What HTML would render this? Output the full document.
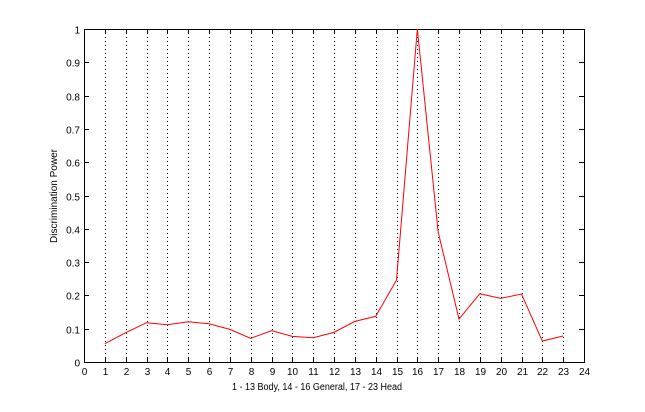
<!DOCTYPE html>
<html><head><meta charset="utf-8"><style>
body{margin:0;background:#fff;}
svg text{font-family:"Liberation Sans",sans-serif;font-size:10px;fill:#000;}
</style></head><body>
<svg id="chart" width="645" height="407" xmlns="http://www.w3.org/2000/svg">
<rect x="0" y="0" width="645" height="407" fill="#fff"/>
<g id="grid"></g>
<g id="axes"></g>
<polyline id="line" fill="none" stroke="#f00" stroke-width="1"/>
<text x="317" y="390" text-anchor="middle" textLength="170" lengthAdjust="spacingAndGlyphs">1 - 13 Body, 14 - 16 General, 17 - 23 Head</text>
<text transform="translate(57,196) rotate(-90)" text-anchor="middle">Discrimination Power</text>
</svg>
<script>
const xCats=[1,2,3,4,5,6,7,8,9,10,11,12,13,14,15,16,17,18,19,20,21,22,23];
const yVals=[0.055,0.088,0.118,0.112,0.121,0.115,0.098,0.071,0.094,0.077,0.073,0.089,0.122,0.137,0.246,1.0,0.39,0.129,0.205,0.191,0.204,0.063,0.078];
const xTicks=[0,1,2,3,4,5,6,7,8,9,10,11,12,13,14,15,16,17,18,19,20,21,22,23,24];
const yTicks=[0,0.1,0.2,0.3,0.4,0.5,0.6,0.7,0.8,0.9,1];
const L=84,R=584,T=29,B=362;
const sx=v=>L+(v-0)/24*(R-L);
const sy=v=>B-(v-0)/1*(B-T);
const NS="http://www.w3.org/2000/svg";
const grid=document.getElementById('grid'),axes=document.getElementById('axes');
function mk(tag,attrs,parent){const e=document.createElementNS(NS,tag);for(const k in attrs)e.setAttribute(k,attrs[k]);parent.appendChild(e);return e;}
const box=mk('rect',{x:L+0.5,y:T+0.5,width:R-L,height:B-T,fill:'none',stroke:'#000','stroke-width':1},axes);


xTicks.forEach(t=>{
  const x=Math.round(sx(t))+0.5;
  if(t>0&&t<24){const g=mk('line',{x1:x,x2:x,y1:T,y2:B,stroke:'#000','stroke-dasharray':'1,3'},grid);
  
  }
  const tk=mk('line',{x1:x,x2:x,y1:B,y2:B-5,stroke:'#000'},axes);
  
  
  const tk2=mk('line',{x1:x,x2:x,y1:T,y2:T+5,stroke:'#000'},axes);
  
  
  const lb=mk('text',{x:x,y:B+13,'text-anchor':'middle'},axes);lb.textContent=t;
  
  
});
yTicks.forEach(t=>{
  const y=Math.round(sy(t))+0.5;
  const tk=mk('line',{x1:L,x2:L+5,y1:y,y2:y,stroke:'#000'},axes);
  
  
  const tk2=mk('line',{x1:R-5,x2:R,y1:y,y2:y,stroke:'#000'},axes);
  
  
  const lb=mk('text',{x:L-4,y:y+4,'text-anchor':'end'},axes);lb.textContent=t;
  
  
});
document.getElementById('line').setAttribute('points',xCats.map((c,i)=>sx(c)+','+sy(yVals[i])).join(' '));
</script>
</body></html>
